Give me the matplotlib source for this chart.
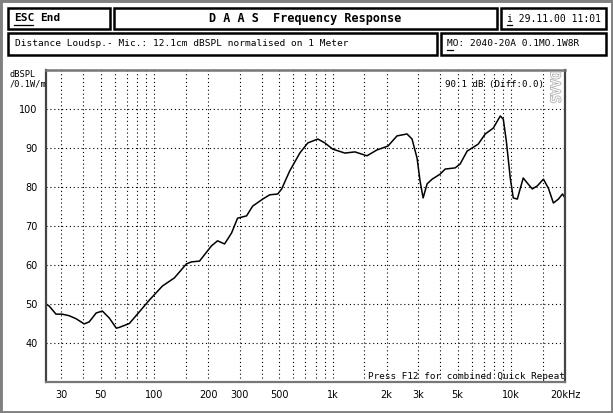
import matplotlib
matplotlib.use('Agg')
import matplotlib.pyplot as plt
import matplotlib.patheffects as pe
from matplotlib.patches import Rectangle
from matplotlib.lines import Line2D
from matplotlib.ticker import FixedLocator, NullFormatter, NullLocator

# measured response (Hz, dB SPL)
freq = [24.7, 25.7, 28.1, 30.4, 33.3, 36.5, 40.4, 43.1, 47.2, 51.1, 55.9, 61.2,
        63.6, 72.4, 82.4, 93.7, 110.9, 129.5, 151.3, 161.4, 179.0, 208.9, 225.9,
        247.3, 270.7, 292.5, 328.6, 355.4, 404.6, 442.9, 491.0, 516.7, 573, 653,
        724, 824, 902, 1000, 1168, 1330, 1553, 1767, 2037, 2289, 2604, 2779, 2965,
        3083, 3206, 3375, 3600, 3993, 4260, 4846, 5169, 5656, 6527, 7147, 7925,
        8676, 9020, 9380, 9870, 10260, 10810, 11240, 11670, 12300, 13120, 14000,
        15140, 16140, 17220, 18370, 19360, 20000]
spl = [50.0, 49.5, 47.4, 47.4, 47.0, 46.2, 44.9, 45.4, 47.7, 48.2, 46.4, 43.8,
       44.0, 45.0, 48.0, 51.0, 54.6, 56.7, 60.3, 60.8, 61.0, 64.9, 66.2,
       65.4, 68.2, 72.0, 72.6, 75.1, 76.9, 78.0, 78.2, 79.5, 84.1, 88.7,
       91.3, 92.3, 91.3, 89.7, 88.7, 89.0, 88.0, 89.5, 90.5, 93.1, 93.6, 92.3, 87.4,
       81.5, 77.2, 80.8, 82.0, 83.3, 84.6, 84.9, 85.9, 89.2, 91.0, 93.6, 95.1,
       98.2, 97.4, 91.8, 82.3, 77.2, 76.9, 79.7, 82.3, 81.0, 79.5, 80.3,
       82.0, 79.7, 75.9, 76.9, 78.2, 77.2]

x_ticks = [30, 50, 100, 200, 300, 500, 1000, 2000, 3000, 5000, 10000, 20000]
x_labels = ['30', '50', '100', '200', '300', '500', '1k', '2k', '3k', '5k', '10k', '20kHz']
x_grid = [30, 40, 50, 60, 70, 80, 90, 100, 150, 200, 300, 400, 500, 600, 700, 800, 900,
          1000, 1500, 2000, 3000, 4000, 5000, 6000, 7000, 8000, 9000, 10000, 15000]
y_ticks = [40, 50, 60, 70, 80, 90, 100]

W, H = 613, 413
fig = plt.figure(figsize=(W / 100, H / 100), dpi=100)
fig.patch.set_facecolor('white')

mono = 'DejaVu Sans Mono'


def px(x, y):
    return x / W, 1 - y / H


# window frame
fig.patches.append(Rectangle((0, 0), 1, 1, transform=fig.transFigure,
                             fill=False, ec='#808080', lw=3.5))


def box(x0, y0, x1, y1):
    fig.patches.append(Rectangle(px(x0, y1), (x1 - x0) / W, (y1 - y0) / H,
                                 transform=fig.transFigure, fill=False,
                                 ec='black', lw=1.8))


def underline(x0, x1, y):
    (a, b), (c, _) = px(x0, y), px(x1, y)
    fig.lines.append(Line2D([a, c], [b, b], transform=fig.transFigure,
                            color='black', lw=0.9))


box(8, 8, 110, 29)
box(114, 8, 497, 29)
box(501, 8, 606, 29)
box(8, 33, 437, 55)
box(441, 33, 606, 55)

fig.text(*px(14, 18), 'ESC', family=mono, weight='bold', fontsize=8, va='center')
underline(14, 33, 24.5)
fig.text(*px(40, 18), 'End', family=mono, weight='bold', fontsize=8, va='center')
fig.text(*px(305, 18.5), 'D A A S  Frequency Response', family=mono, weight='bold',
         fontsize=8.5, va='center', ha='center')
fig.text(*px(507, 18.5), 'i 29.11.00 11:01', family=mono, fontsize=7, va='center')
underline(507, 512, 24.5)
fig.text(*px(15, 44), 'Distance Loudsp.- Mic.: 12.1cm dBSPL normalised on 1 Meter',
         family=mono, fontsize=6.8, va='center')
fig.text(*px(447, 44), 'MO: 2040-20A 0.1MO.1W8R', family=mono, fontsize=6.8, va='center')
underline(447, 453, 49.5)
fig.text(*px(10, 79), 'dBSPL\n/0.1W/m', family=mono, fontsize=6.2, va='center',
         ha='left', linespacing=1.1)

ax = fig.add_axes([46 / W, 1 - 382 / H, (565 - 46) / W, (382 - 70) / H])
ax.plot(freq, spl, color='black', lw=1.1)
ax.set_xscale('log')
ax.set_xlim(24.7, 20000)
ax.set_ylim(30, 110)

ax.xaxis.set_major_locator(FixedLocator(x_ticks))
ax.set_xticklabels(x_labels)
ax.xaxis.set_minor_locator(FixedLocator(x_grid))
ax.xaxis.set_minor_formatter(NullFormatter())
ax.set_yticks(y_ticks)
ax.yaxis.set_minor_locator(NullLocator())
ax.tick_params(axis='both', which='both', length=0, labelsize=7, pad=6)
for lab in ax.get_xticklabels() + ax.get_yticklabels():
    lab.set_family('DejaVu Sans')

dots = (0, (1, 2.5))
ax.grid(True, which='both', axis='x', color='black', ls=dots, lw=0.8)
ax.grid(True, which='major', axis='y', color='black', ls=dots, lw=0.8)
# the 20k label sits on the frame, no grid line there
ax.get_xgridlines()[-1].set_visible(False)
ax.set_axisbelow(True)

for side in ['left', 'right']:
    ax.spines[side].set_color('#444444')
    ax.spines[side].set_linewidth(1.6)
ax.spines['top'].set_color('#777777')
ax.spines['top'].set_linewidth(1.8)
ax.spines['bottom'].set_color('#777777')
ax.spines['bottom'].set_linewidth(1.6)

ax.text(0.96, 0.955, '90.1 dB (Diff:0.0)', transform=ax.transAxes, family=mono,
        fontsize=6.6, ha='right', va='center')
ax.text(0.992, 0.995, 'DAAS', transform=ax.transAxes, family=mono, fontsize=9.5,
        rotation=-90, ha='right', va='top', color='white',
        path_effects=[pe.withStroke(linewidth=1.2, foreground='#b0b0b0')])
ax.text(1.0, 0.004, 'Press F12 for combined Quick Repeat', transform=ax.transAxes,
        family=mono, fontsize=6.7, ha='right', va='bottom')

fig.savefig('out.png', dpi=100)
